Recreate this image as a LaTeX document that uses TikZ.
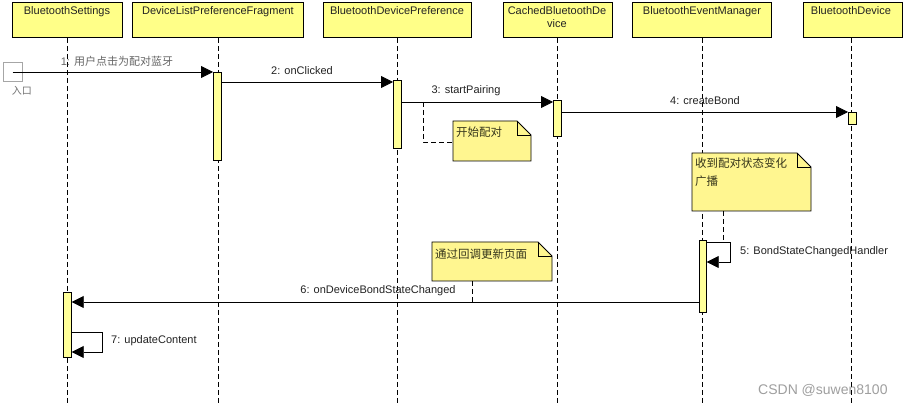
\documentclass[tikz,border=0pt]{standalone}
\usepackage{fontspec}
\setmainfont{Liberation Sans}
\newfontfamily\cjk{Noto Sans CJK SC}
\usetikzlibrary{arrows.meta}
\definecolor{hdrY}{HTML}{FFFF88}
\definecolor{noteY}{HTML}{FFF690}
\definecolor{actY}{HTML}{FFFF99}
\definecolor{txtD}{HTML}{222222}
\begin{document}
\begin{tikzpicture}[x=1pt,y=-1pt,
  font=\fontsize{11}{13}\selectfont,
  hdr/.style={draw=black,fill=hdrY,line width=0.8pt,anchor=north west,inner sep=0pt},
  htext/.style={anchor=north,inner sep=0pt,align=center,text=txtD},
  life/.style={dash pattern=on 5pt off 3pt,line width=0.7pt},
  actbox/.style={draw=black,fill=actY,line width=0.7pt,anchor=north west,inner sep=0pt,minimum width=8pt},
  msg/.style={line width=0.8pt,-{Triangle[length=12pt,width=12pt]}},
  mlabel/.style={inner sep=0pt,text=txtD},
  notebody/.style={draw=black,fill=noteY,line width=0.8pt},
  notetext/.style={inner sep=0pt,text=txtD!80!olive,font=\cjk\fontsize{11.5}{18}\selectfont},
  notelink/.style={dash pattern=on 5pt off 3pt,line width=0.7pt}
]
\useasboundingbox (0,0) rectangle (906,406);
\fill[white] (0,0) rectangle (906,406);

% headers
\node[hdr,minimum width=110pt,minimum height=35pt] (hBS) at (12,2) {};
\node[hdr,minimum width=171pt,minimum height=35pt] (hDL) at (132,2) {};
\node[hdr,minimum width=148pt,minimum height=35pt] (hBP) at (323,2) {};
\node[hdr,minimum width=109pt,minimum height=35pt] (hCB) at (503,2) {};
\node[hdr,minimum width=139pt,minimum height=35pt] (hEM) at (632,2) {};
\node[hdr,minimum width=99pt,minimum height=35pt] (hBD) at (803,2) {};
\node[htext] (tBS) at (67,6) {BluetoothSettings};
\node[htext] (tDL) at (218,6) {DeviceListPreferenceFragment};
\node[htext] (tBP) at (397,6) {BluetoothDevicePreference};
\node[htext] (tCB) at (557,6) {CachedBluetoothDe\\vice};
\node[htext] (tEM) at (702,6) {BluetoothEventManager};
\node[htext] (tBD) at (851,6) {BluetoothDevice};

% lifelines
\coordinate (eBS) at (67,406);
\coordinate (eDL) at (218,406);
\coordinate (eBP) at (397,406);
\coordinate (eCB) at (557,406);
\coordinate (eEM) at (702,406);
\coordinate (eBD) at (851,406);
\draw[life] (hBS.south -| 67,0) -- (eBS);
\draw[life] (hDL.south -| 218,0) -- (eDL);
\draw[life] (hBP.south -| 397,0) -- (eBP);
\draw[life] (hCB.south -| 557,0) -- (eCB);
\draw[life] (hEM.south -| 702,0) -- (eEM);
\draw[life] (hBD.south -| 851,0) -- (eBD);

% activations
\node[actbox,minimum height=88pt] (aDL) at (213,72) {};
\node[actbox,minimum height=68pt] (aBP) at (393,80) {};
\node[actbox,minimum height=36pt] (aCB) at (553,100) {};
\node[actbox,minimum height=12pt] (aBD) at (848,112) {};
\node[actbox,minimum height=72pt,minimum width=7pt] (aEM) at (699,240) {};
\node[actbox,minimum height=65pt] (aBS) at (63,292) {};

% entry
\node[draw=gray!70,fill=white,line width=0.7pt,minimum size=19pt,inner sep=0pt] (entry) at (12.5,72) {};
\node[inner sep=0pt,text=gray!90!black,font=\cjk\fontsize{10}{12}\selectfont] (entryT) at (22,91) {入口};

% message 1
\draw[msg] (entry.center) -- (aDL.west |- 0,72);
\node[mlabel,text=gray!80!black] (l1) at (117,61) {1: {\cjk 用户点击为配对蓝牙}};

% message 2
\draw[msg] (aDL.east |- 0,82) -- (aBP.west |- 0,82);
\node[mlabel] (l2) at (302,71) {2: onClicked};

% message 3
\draw[msg] (aBP.east |- 0,102) -- (aCB.west |- 0,102);
\node[mlabel] (l3) at (466,91) {3: startPairing};

% message 4
\draw[msg] (aCB.east |- 0,112) -- (aBD.west |- 0,112);
\node[mlabel] (l4) at (705,101) {4: createBond};

% message 5 (self)
\coordinate (m5a) at (aEM.east |- 0,242);
\coordinate (m5b) at (aEM.east |- 0,262);
\draw[msg] (m5a) -- (730,242) -- (730,262) -- (m5b);
\node[mlabel,anchor=west] (l5) at (740,252) {5: BondStateChangedHandler};

% message 6
\draw[msg] (aEM.west |- 0,302) -- (aBS.east |- 0,302);
\node[mlabel] (l6) at (378,291) {6: onDeviceBondStateChanged};

% message 7 (self)
\coordinate (m7a) at (aBS.east |- 0,332);
\coordinate (m7b) at (aBS.east |- 0,352);
\draw[msg] (m7a) -- (102,332) -- (102,352) -- (m7b);
\node[mlabel,anchor=west] (l7) at (111,341) {7: updateContent};

% note 1
\draw[notebody] (453,121) -- (517,121) -- (531,135) -- (531,161) -- (453,161) -- cycle;
\draw[line width=0.8pt] (517,121) -- (517,135) -- (531,135);
\node[notetext,anchor=west] (n1t) at (456,132) {开始配对};
\coordinate (n1c) at (423,102);
\draw[notelink] (n1c) -- (423,142) -- (453,142);

% note 2
\draw[notebody] (692,153) -- (797,153) -- (811,167) -- (811,211) -- (692,211) -- cycle;
\draw[line width=0.8pt] (797,153) -- (797,167) -- (811,167);
\node[notetext,anchor=north west,align=left] (n2t) at (695,158) {收到配对状态变化\\广播};
\coordinate (n2c) at (723,242);
\draw[notelink] (723,211) -- (n2c);

% note 3
\draw[notebody] (432,242) -- (538,242) -- (552,256) -- (552,281) -- (432,281) -- cycle;
\draw[line width=0.8pt] (538,242) -- (538,256) -- (552,256);
\node[notetext,anchor=west] (n3t) at (435,254) {通过回调更新页面};
\coordinate (n3c) at (472,302);
\draw[notelink] (472,281) -- (n3c);

% watermark
\node[anchor=west,inner sep=0pt,text=gray!75,font=\fontsize{14}{16}\selectfont] (wm) at (758,390) {CSDN @suwen8100};
\end{tikzpicture}
\end{document}
